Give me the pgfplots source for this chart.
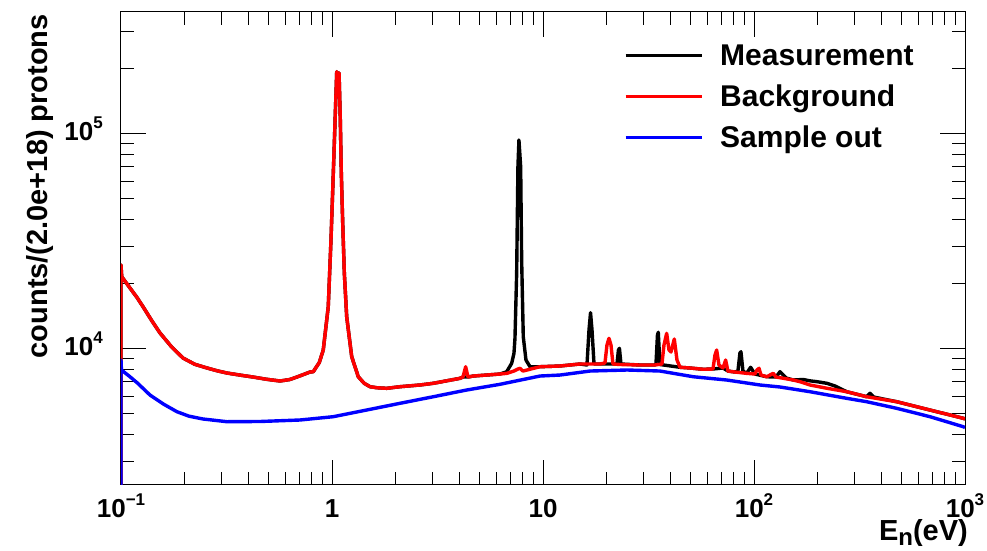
\documentclass[border=0pt]{standalone}
\usepackage{fontspec}
\setmainfont{Liberation Sans}
\usepackage{pgfplots}
\pgfplotsset{compat=1.18}
\newcommand{\tp}[1]{10\raisebox{12pt}{\fontsize{17}{17}\selectfont #1}}
\pgfplotstableread{
x y
0.1 1000
0.1 24500
0.1008 21600
0.1103 19140
0.1190 17300
0.1272 15660
0.1395 13550
0.1531 11820
0.1735 10200
0.1967 9040
0.2240 8450
0.2557 8125
0.2850 7890
0.3178 7700
0.3700 7520
0.4221 7377
0.4900 7200
0.5669 7068
0.6300 7180
0.6824 7377
0.7865 7782
0.815 7810
0.870 8600
0.909 9850
0.960 15660
0.989 32000
1.008 54700
1.022 81240
1.037 124700
1.053 194100
1.066 183000
1.080 191400
1.095 115700
1.107 65560
1.124 38390
1.144 22470
1.174 14070
1.240 9170
1.332 7400
1.420 6900
1.514 6650
1.628 6578
1.816 6535
2.100 6650
2.61 6773
3.020 6896
4.044 7275
4.176 7377
4.300 8236
4.410 7377
4.672 7456
6.254 7617
6.748 7674
7.286 7866
7.607 8036
7.776 8097
8.035 7866
9.674 8236
12.04 8300
14.97 8480
18.62 8480
19.67 8570
20.10 10390
20.54 11166
21.00 10390
21.46 8480
23.16 8434
28.81 8390
33.94 8390
36.62 8480
37.44 10390
38.56 11780
39.54 9851
40.41 9643
41.90 11080
43.15 8850
44.59 8186
49.72 8125
57.48 8012
63.91 8036
65.32 9337
66.53 9851
68.22 8390
71.26 8125
73.38 8850
75.24 7866
81.22 7782
92.28 7674
101.0 7617
103.3 7953
105.6 8097
107.9 7535
114.8 7399
123.4 7674
127.1 7377
153.5 7145
165.1 7017
184.2 6773
221.7 6539
274.9 6303
342.0 5973
474.5 5662
682.3 5181
981.3 4741
1000 4706
}\background
\pgfplotstableread{
x y
0.1 1000
0.1 24500
0.1008 21600
0.1103 19140
0.1190 17300
0.1272 15660
0.1395 13550
0.1531 11820
0.1735 10200
0.1967 9040
0.2240 8450
0.2557 8125
0.2850 7890
0.3178 7700
0.3700 7520
0.4221 7377
0.4900 7200
0.5669 7068
0.6300 7180
0.6824 7377
0.7865 7782
0.815 7810
0.870 8600
0.909 9850
0.960 15660
0.989 32000
1.008 54700
1.022 81240
1.037 124700
1.053 194100
1.066 183000
1.080 191400
1.095 115700
1.107 65560
1.124 38390
1.144 22470
1.174 14070
1.240 9170
1.332 7400
1.420 6900
1.514 6650
1.628 6578
1.816 6535
2.100 6650
2.61 6773
3.020 6896
4.044 7275
4.176 7377
4.410 7377
4.672 7456
6.254 7617
6.726 7800
7.105 8543
7.286 9509
7.365 11166
7.503 22400
7.607 70150
7.691 93370
7.837 70150
7.923 25830
8.063 11360
8.304 8850
8.678 8236
9.674 8236
12.04 8300
14.97 8480
16.16 8390
16.52 12210
16.80 14690
17.07 12210
17.45 8480
18.62 8480
22.41 8480
22.78 9851
23.03 10030
23.41 8480
28.81 8390
33.94 8390
34.31 8480
34.87 11570
35.18 11910
35.84 8434
44.59 8186
49.72 8125
57.48 8012
63.91 8036
71.26 8125
75.24 7866
81.22 7782
83.92 7866
85.78 9540
86.71 9674
88.63 7866
92.28 7674
96.4 8186
101.0 7617
114.8 7399
127.1 7377
132.8 7810
142.0 7300
153.5 7145
171.2 7183
184.2 7080
198.8 7017
221.7 6896
241.9 6700
274.9 6303
342.0 5973
354.6 6197
370.0 5950
474.5 5662
682.3 5181
981.3 4741
1000 4706
}\measurement
\pgfplotstableread{
x y
0.1 1000
0.1 8850
0.1005 7953
0.1103 7399
0.1200 6900
0.1372 6083
0.1600 5500
0.1842 5087
0.2100 4850
0.2446 4706
0.3178 4571
0.4557 4581
0.7052 4655
1.014 4823
1.460 5181
2.100 5566
3.020 5973
4.347 6418
6.254 6823
9.674 7456
12.04 7535
16.72 7866
25.04 7953
35.84 7866
51.54 7399
74.20 7145
106.7 6773
132.8 6629
184.2 6303
274.9 5872
342.0 5662
474.5 5276
682.3 4823
981.3 4332
1000 4295
}\sampleout
\begin{document}
\begin{tikzpicture}
\useasboundingbox (-121pt,-66pt) rectangle (866pt,485pt);
\begin{axis}[
  at={(0pt,0pt)}, anchor=south west,
  scale only axis, width=844pt, height=473pt,
  xmode=log, ymode=log,
  xmin=0.1, xmax=1000, ymin=2321, ymax=367800,
  xtick={0.1,1,10,100,1000},
  xticklabels={\tp{−1},1,10,\tp{2},\tp{3}},
  ytick={10000,100000}, yticklabels={\tp{4},\tp{5}},
  minor xtick={0.2,0.3,0.4,0.5,0.6,0.7,0.8,0.9,2,3,4,5,6,7,8,9,20,30,40,50,60,70,80,90,200,300,400,500,600,700,800,900},
  minor ytick={3000,4000,5000,6000,7000,8000,9000,20000,30000,40000,50000,60000,70000,80000,90000,200000,300000},
  tick align=inside, major tick length=25pt, minor tick length=13pt,
  every tick/.style={black, line width=1pt},
  axis line style={line width=1pt},
  tick label style={font=\fontsize{26}{26}\selectfont\bfseries, inner sep=0pt},
  xticklabel style={anchor=base, yshift=-33pt},
  yticklabel style={anchor=base east, xshift=-18pt, yshift=-7pt},
  xlabel={E\raisebox{-5pt}{\fontsize{24}{24}\selectfont n}(eV)},
  ylabel={counts/(2.0e+18) protons},
  every axis x label/.style={at={(rel axis cs:1,0)}, anchor=base east, xshift=3pt, yshift=-56pt, font=\fontsize{29}{29}\selectfont\bfseries, inner sep=0pt},
  every axis y label/.style={at={([xshift=-73pt,yshift=-2pt]rel axis cs:0,1)}, rotate=90, anchor=base east, font=\fontsize{29}{29}\selectfont\bfseries, inner sep=0pt},
  legend style={draw=none, fill=none, inner sep=0pt, at={(0.596,0.932)}, anchor=north west, font=\fontsize{30}{30}\selectfont\bfseries, column sep=17pt, row sep=19.5pt, nodes={inner sep=0pt, text height=21.5pt, text depth=0pt}},
  legend cell align=left,
  legend image code/.code={\draw[#1, line width=3pt] (0pt,0pt) -- (76pt,0pt);},
]
\addplot[black, line width=3.4pt, line join=round] table {\measurement};
\addlegendentry{Measurement}
\addplot[red, line width=3.4pt, line join=round] table {\background};
\addlegendentry{Background}
\addplot[blue, line width=3.4pt, line join=round] table {\sampleout};
\addlegendentry{Sample out}
\end{axis}
\end{tikzpicture}
\end{document}
